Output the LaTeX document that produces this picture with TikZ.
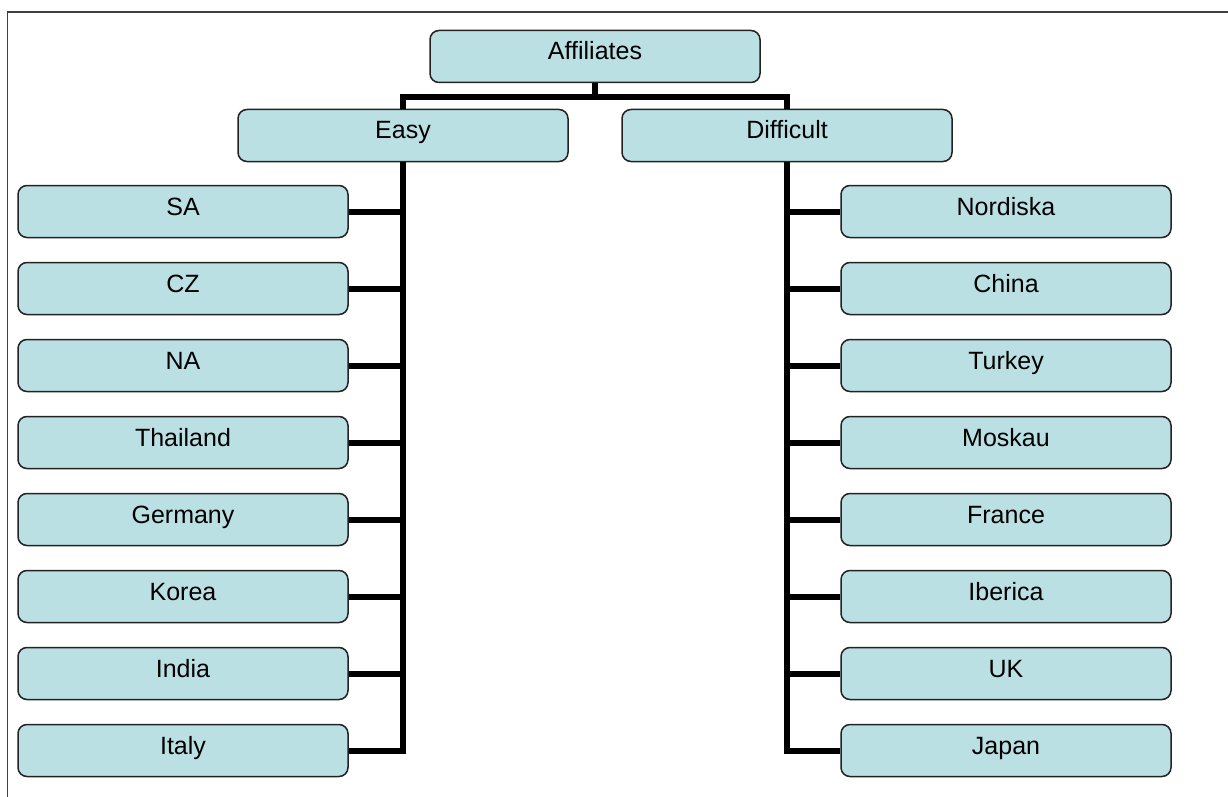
\documentclass[tikz,border=0pt]{standalone}
\usepackage{fontspec}
\setmainfont{Liberation Sans}
\definecolor{boxfill}{HTML}{BBE0E3}
\definecolor{boxedge}{HTML}{222222}
\definecolor{frameline}{HTML}{404040}
\begin{document}
\begin{tikzpicture}[x=1pt,y=-1pt,
  orgbox/.style={draw=boxedge, line width=1.5pt, fill=boxfill,
    rounded corners=9pt, minimum width=330pt, minimum height=52pt,
    inner sep=0pt, text height=18pt, text depth=11pt,
    font=\fontsize{25}{30}\selectfont},
  link/.style={line width=6pt, line cap=butt}]
  \useasboundingbox (0,0) rectangle (1228,797);
  % frame (top and left edges)
  \draw[frameline, line width=1.5pt] (7.5,797) -- (7.5,12) -- (1228,12);

  % top level
  \node[orgbox] (aff) at (595,56.5) {Affiliates};
  \node[orgbox] (easy) at (403,135.5) {Easy};
  \node[orgbox] (diff) at (787,135.5) {Difficult};

  % left column
  \foreach \t [count=\i from 0] in {SA,CZ,NA,Thailand,Germany,Korea,India,Italy}
    \node[orgbox] (e\i) at (183,211.5+77*\i) {\t};
  % right column
  \foreach \t [count=\i from 0] in {Nordiska,China,Turkey,Moskau,France,Iberica,UK,Japan}
    \node[orgbox] (d\i) at (1006,211.5+77*\i) {\t};

  % junction points
  \coordinate (jl) at (403,97);
  \coordinate (jr) at (787,97);
  \coordinate (ja) at (595,97);

  % connectors from the root
  \draw[link] (aff.south) -- (ja);
  \draw[link] (easy.north) -- (jl) -- (jr) -- (diff.north);

  % trunks
  \draw[link] (easy.south) -- (easy.south |- e7.east) -- (e7.east);
  \draw[link] (diff.south) -- (diff.south |- d7.west) -- (d7.west);

  % branches
  \foreach \i in {0,...,6} {
    \draw[link] (e\i.east) -- (easy.south |- e\i.east);
    \draw[link] (d\i.west) -- (diff.south |- d\i.west);
  }
\end{tikzpicture}
\end{document}
